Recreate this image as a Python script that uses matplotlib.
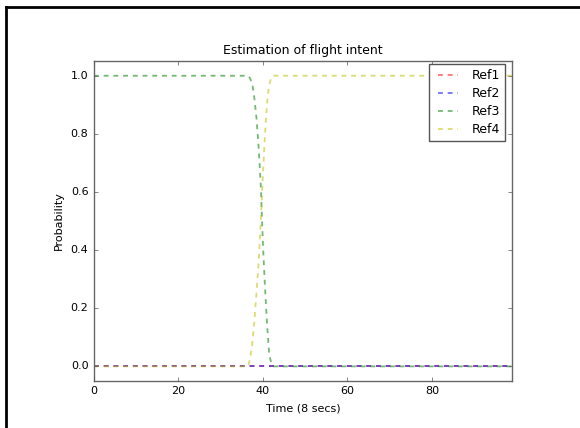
import matplotlib
matplotlib.use('Agg')
import matplotlib.pyplot as plt
import numpy as np
from matplotlib.lines import Line2D

plt.style.use('classic')

# sampled every half step, 0 .. 99
time = np.arange(0, 99.5, 0.5)

# transition region t = 36.5 .. 42.5
ref3_trans = [1.0, 0.99, 0.97, 0.92, 0.85, 0.75, 0.62, 0.42, 0.27, 0.14, 0.04, 0.01, 0.0]
ref4_trans = [0.0, 0.03, 0.08, 0.16, 0.26, 0.36, 0.50, 0.66, 0.80, 0.91, 0.97, 0.995, 1.0]

ref1 = [0.0] * 199
ref2 = [0.0] * 199
ref3 = [1.0] * 73 + ref3_trans + [0.0] * 113
ref4 = [0.0] * 73 + ref4_trans + [1.0] * 113

fig = plt.figure(figsize=(5.8, 4.28), dpi=100, facecolor='white')
ax = fig.add_axes([0.162, 0.110, 0.721, 0.747])
ax.set_facecolor('white')

for vals, c, lab in [(ref1, 'r', 'Ref1'), (ref2, 'b', 'Ref2'),
                     (ref3, 'g', 'Ref3'), (ref4, 'y', 'Ref4')]:
    ax.plot(time, vals, '--', color=c, alpha=0.55, lw=1.3, dashes=(3.5, 3.5), label=lab)

ax.set_xlim(0, 99)
ax.set_ylim(-0.05, 1.05)
ax.set_xticks([0, 20, 40, 60, 80])
ax.set_yticks([0.0, 0.2, 0.4, 0.6, 0.8, 1.0])
ax.tick_params(labelsize=8, length=3, color='#555555')
for s in ax.spines.values():
    s.set_color('#666666')

ax.set_title('Estimation of flight intent', fontsize=9)
ax.set_xlabel('Time (8 secs)', fontsize=8)
ax.set_ylabel('Probability', fontsize=8)

leg = ax.legend(loc='upper right', bbox_to_anchor=(0.983, 0.99), borderaxespad=0,
                fontsize=9, handlelength=2.2, labelspacing=0.4, frameon=True)
leg.get_frame().set_edgecolor('#555555')
leg.get_frame().set_linewidth(1.0)

# screenshot border
fig.add_artist(Line2D([0.010, 0.010], [0.0, 0.983], transform=fig.transFigure, color='black', lw=2))
fig.add_artist(Line2D([0.010, 1.0], [0.983, 0.983], transform=fig.transFigure, color='black', lw=2))

fig.savefig('out.png', dpi=100, facecolor='white')
